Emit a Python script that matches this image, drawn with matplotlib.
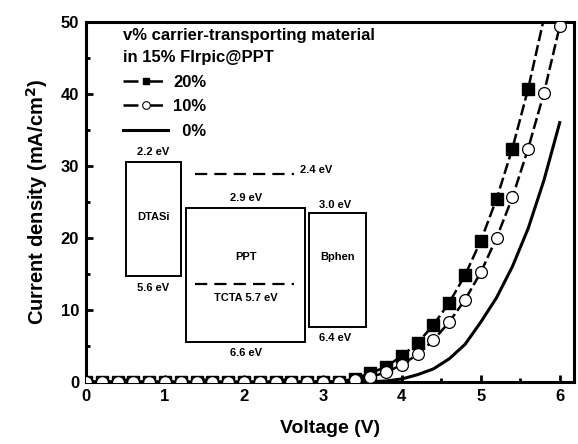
"""J-V curves of the FIrpic@PPT devices with an energy-level inset drawn in data space."""

import matplotlib

matplotlib.use("Agg")
import matplotlib.pyplot as plt
import numpy as np
from matplotlib.lines import Line2D
from matplotlib.patches import Rectangle
from matplotlib.ticker import MultipleLocator

plt.rcParams["font.family"] = ["Liberation Sans", "DejaVu Sans"]
plt.rcParams["font.weight"] = "bold"

# --- data (V, mA/cm^2) ---
v20 = np.round(np.arange(0.0, 5.81, 0.2), 1)
j20 = [0.0] * 17 + [0.45, 1.2, 2.1, 3.6, 5.4, 7.9, 11.0, 14.8, 19.6, 25.4, 32.4, 40.7, 50.5]

v10 = np.round(np.arange(0.0, 6.01, 0.2), 1)
j10 = [0.0] * 17 + [0.3, 0.7, 1.3, 2.4, 3.8, 5.8, 8.3, 11.4, 15.2, 20.0, 25.6, 32.4, 40.1, 49.4]

v0 = [0.0, 3.4, 3.6, 3.8, 4.0, 4.2, 4.4, 4.6, 4.8, 5.0, 5.2, 5.4, 5.6, 5.8, 6.0]
j0 = [0.0, 0.0, 0.02, 0.12, 0.4, 1.0, 1.8, 3.2, 5.2, 8.3, 11.7, 16.0, 21.3, 28.0, 36.0]

# energy-level inset: (name, x0, x1, LUMO-y, HOMO-y) in data units
boxes = [
    ("DTASi", 0.50, 1.20, 30.5, 14.65),
    ("PPT", 1.27, 2.77, 24.1, 5.6),
    ("Bphen", 2.82, 3.54, 23.4, 7.6),
]
box_labels = [
    (0.85, 31.9, "2.2 eV"), (0.85, 13.0, "5.6 eV"), (0.85, 22.9, "DTASi"),
    (2.02, 25.5, "2.9 eV"), (2.02, 17.3, "PPT"), (2.02, 11.7, "TCTA 5.7 eV"),
    (2.02, 4.0, "6.6 eV"), (3.15, 24.6, "3.0 eV"), (3.18, 17.3, "Bphen"),
    (3.15, 6.1, "6.4 eV"),
]
dashed_levels = [(1.38, 2.63, 28.85), (1.38, 2.63, 13.6)]

fig = plt.figure(figsize=(5.78, 4.44), dpi=100)
ax = fig.add_axes([0.149, 0.14, 0.844, 0.811])

dash = (4.5, 1.6)
ax.plot(v20, j20, color="black", lw=1.8, dashes=dash, marker="s", ms=8,
        mfc="black", mec="black", markevery=list(range(len(v20) - 1)), zorder=3)
ax.plot(v10, j10, color="black", lw=1.8, dashes=dash, marker="o", ms=8.5,
        mfc="white", mec="black", mew=0.9, zorder=4)
ax.plot(v0, j0, color="black", lw=2.2, zorder=2)

for name, x0, x1, top, bot in boxes:
    ax.add_patch(Rectangle((x0, bot), x1 - x0, top - bot, fill=False,
                           ec="black", lw=1.4, zorder=1))
for x0, x1, y in dashed_levels:
    ax.plot([x0, x1], [y, y], color="black", lw=1.6, dashes=(5.5, 3.2), zorder=1)
ax.text(2.71, 29.4, "2.4 eV", fontsize=8, fontweight="bold", va="center", ha="left")
for x, y, s in box_labels:
    ax.text(x, y, s, fontsize=8, fontweight="bold", ha="center", va="center")

ax.set_xlim(0, 6.18)
ax.set_ylim(0, 50)
ax.xaxis.set_major_locator(MultipleLocator(1))
ax.xaxis.set_minor_locator(MultipleLocator(0.5))
ax.yaxis.set_major_locator(MultipleLocator(10))
ax.yaxis.set_minor_locator(MultipleLocator(5))
ax.tick_params(which="both", direction="in", top=False, right=False, width=2)
ax.tick_params(which="major", length=5, labelsize=12, pad=5)
ax.tick_params(which="minor", length=3)
for sp in ax.spines.values():
    sp.set_linewidth(2.2)

ax.set_xlabel("Voltage (V)", fontsize=14, fontweight="bold", labelpad=12)
ax.set_ylabel("Current density (mA/cm$^\\mathbf{2}$)", fontsize=14.5,
              fontweight="bold", labelpad=8)

handles = [
    Line2D([], [], color="black", lw=1.8, dashes=(6.0, 3.8), marker="s", ms=5,
           mfc="black", label="20%"),
    Line2D([], [], color="black", lw=1.8, dashes=(6.0, 3.8), marker="o", ms=5.5,
           mfc="white", mew=0.8, label="10%"),
    Line2D([], [], color="black", lw=2.2, label="  0%"),
]
leg = ax.legend(handles=handles, loc="upper left", bbox_to_anchor=(0.05, 1.018),
                frameon=False, fontsize=12, handlelength=2.7, handletextpad=0.3,
                labelspacing=0.58, borderpad=0.25,
                title="v% carrier-transporting material\nin 15% FIrpic@PPT",
                title_fontproperties={"size": 12, "weight": "bold"},
                alignment="left")
leg.get_title().set_linespacing(1.6)

fig.savefig("out.png", dpi=100)
